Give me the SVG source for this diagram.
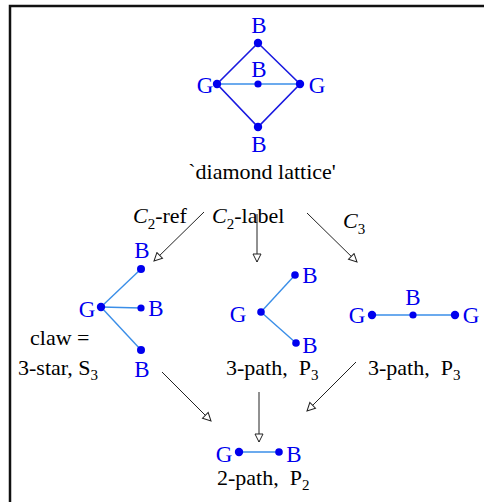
<svg xmlns="http://www.w3.org/2000/svg" width="484" height="502" viewBox="0 0 484 502">
<defs>
<style>
.t{font-family:"Liberation Serif","Times New Roman",serif;font-size:22px;fill:#000;white-space:pre}
.b{font-family:"Liberation Serif","Times New Roman",serif;font-size:23px;fill:#0000ee;text-anchor:middle}
.s{font-size:15px}
.dk{stroke:#1a1ae0;stroke-width:1.6;fill:none}
.lt{stroke:#3a8ee8;stroke-width:1.4;fill:none}
.dot{fill:#0000ee}
.ar{stroke:#222;stroke-width:1;fill:none;marker-end:url(#ah)}
</style>
<marker id="ah" viewBox="0 0 10 10" refX="9" refY="5" markerWidth="10" markerHeight="10" markerUnits="userSpaceOnUse" orient="auto">
<path d="M1,1 L9,5 L1,9 Z" fill="#fff" stroke="#222" stroke-width="1"/>
</marker>
</defs>
<path d="M10,502 V6 H484" fill="none" stroke="#111" stroke-width="2.5"/>

<g id="diamond">
<path class="dk" d="M258,43 L217,84 L258,127 L300,84 Z"/>
<line class="lt" x1="217" y1="84" x2="300" y2="84"/>
<circle class="dot" cx="258" cy="43" r="4.2"/>
<circle class="dot" cx="217" cy="84" r="4.2"/>
<circle class="dot" cx="258" cy="84" r="3.6"/>
<circle class="dot" cx="300" cy="84" r="4.2"/>
<circle class="dot" cx="258" cy="127" r="4.2"/>
<text class="b" x="259" y="33">B</text>
<text class="b" x="259" y="77">B</text>
<text class="b" x="205" y="93">G</text>
<text class="b" x="317" y="93">G</text>
<text class="b" x="259" y="152">B</text>
<text class="t" x="262" y="179" text-anchor="middle">`diamond lattice'</text>
</g>

<g id="claw">
<line class="lt" x1="101" y1="307" x2="141" y2="269"/>
<line class="lt" x1="101" y1="307" x2="141" y2="308"/>
<line class="lt" x1="101" y1="307" x2="141" y2="350"/>
<circle class="dot" cx="101" cy="307" r="4.2"/>
<circle class="dot" cx="141" cy="269" r="4"/>
<circle class="dot" cx="141" cy="308" r="3.6"/>
<circle class="dot" cx="141" cy="350" r="4"/>
<text class="b" x="142" y="258">B</text>
<text class="b" x="87" y="317">G</text>
<text class="b" x="156" y="316">B</text>
<text class="b" x="142" y="377">B</text>
<text class="t" x="30" y="345">claw =</text>
<text class="t" x="18" y="375">3-star, S<tspan class="s" dy="5">3</tspan></text>
</g>

<g id="path3a">
<line class="lt" x1="261" y1="312" x2="295" y2="275"/>
<line class="lt" x1="261" y1="312" x2="296" y2="343"/>
<circle class="dot" cx="261" cy="312" r="3.8"/>
<circle class="dot" cx="295" cy="275" r="3.8"/>
<circle class="dot" cx="296" cy="343" r="3.8"/>
<text class="b" x="238" y="322">G</text>
<text class="b" x="310" y="283">B</text>
<text class="b" x="310" y="353">B</text>
<text class="t" x="226" y="375">3-path,  P<tspan class="s" dy="5">3</tspan></text>
</g>

<g id="path3b">
<line class="lt" x1="372" y1="315" x2="455" y2="315"/>
<circle class="dot" cx="372" cy="315" r="4.2"/>
<circle class="dot" cx="413" cy="315" r="3.6"/>
<circle class="dot" cx="455" cy="315" r="4.2"/>
<text class="b" x="357" y="323">G</text>
<text class="b" x="413" y="305">B</text>
<text class="b" x="471" y="323">G</text>
<text class="t" x="368" y="375">3-path,  P<tspan class="s" dy="5">3</tspan></text>
</g>

<g id="path2">
<line class="lt" x1="239" y1="452" x2="279" y2="452"/>
<circle class="dot" cx="239" cy="452" r="4.2"/>
<circle class="dot" cx="279" cy="452" r="3.8"/>
<text class="b" x="224" y="462">G</text>
<text class="b" x="294" y="462">B</text>
<text class="t" x="217" y="485">2-path,  P<tspan class="s" dy="5">2</tspan></text>
</g>

<g id="labels">
<text class="t" x="133" y="223"><tspan font-style="italic">C</tspan><tspan class="s" dy="6">2</tspan><tspan dy="-6">-ref</tspan></text>
<text class="t" x="212" y="223"><tspan font-style="italic">C</tspan><tspan class="s" dy="6">2</tspan><tspan dy="-6">-label</tspan></text>
<text class="t" x="343" y="228"><tspan font-style="italic">C</tspan><tspan class="s" dy="6">3</tspan></text>
</g>

<g id="connectors">
<line class="ar" x1="204" y1="212" x2="154" y2="261"/>
<line class="ar" x1="257" y1="214" x2="257" y2="262"/>
<line class="ar" x1="307" y1="213" x2="357" y2="262"/>
<line class="ar" x1="162" y1="372" x2="211" y2="421"/>
<line class="ar" x1="259" y1="392" x2="259" y2="442"/>
<line class="ar" x1="356" y1="362" x2="307" y2="411"/>
</g>
</svg>
